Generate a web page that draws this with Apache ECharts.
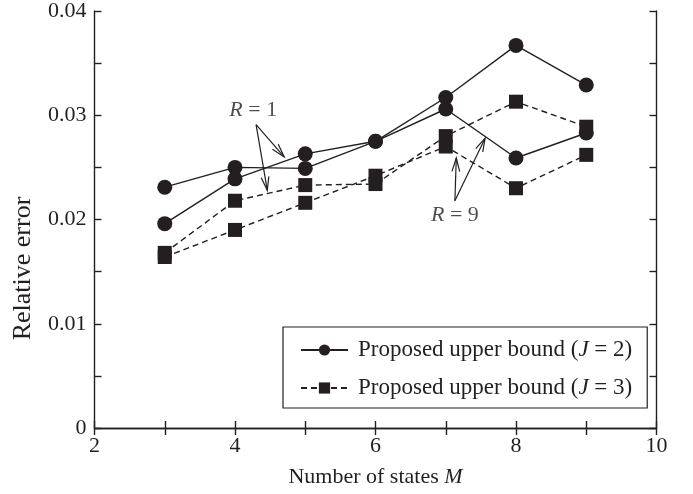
<!DOCTYPE html>
<html>
<head>
<meta charset="utf-8">
<script src="https://cdn.jsdelivr.net/npm/echarts@6/dist/echarts.min.js"></script>
<style>
  html, body { margin: 0; padding: 0; background: #fff; }
  #main { width: 693px; height: 494px; }
</style>
</head>
<body>
<div id="main"></div>
<script>
// number of states M
const mStates = [3, 4, 5, 6, 7, 8, 9];
// relative error, J = 2 (circles, solid)
const j2R1 = [0.0196, 0.0239, 0.0263, 0.0275, 0.0317, 0.0367, 0.0329];
const j2R9 = [0.0231, 0.0250, 0.0249, 0.0275, 0.0306, 0.0259, 0.0283];
// relative error, J = 3 (squares, dashed)
const j3R1 = [0.0168, 0.0218, 0.0233, 0.0234, 0.0280, 0.0313, 0.0289];
const j3R9 = [0.0164, 0.0190, 0.0216, 0.0242, 0.0270, 0.0230, 0.0262];
// annotation arrows, in data units: [fromX, fromY, toX, toY]
const arrowsR1 = [[4.30, 0.0291, 4.70, 0.0260], [4.30, 0.0291, 4.46, 0.0228]];
const arrowsR9 = [[7.13, 0.0218, 7.15, 0.0259], [7.13, 0.0218, 7.56, 0.0278]];
// annotation labels
const notes = [{ x: 4.26, y: 0.0305, r: '1' }, { x: 7.13, y: 0.0204, r: '9' }];

const ink = '#231f20';
const serif = '"Liberation Serif", "DejaVu Serif", serif';
const fs = 22;

function pairs(ys) {
    return mStates.map((m, i) => [m, ys[i]]);
}

let myChart = echarts.init(document.getElementById('main'));

function lineSeries(name, ys, symbol, dashed) {
    return {
        name: name,
        type: 'line',
        data: pairs(ys),
        symbol: symbol,
        symbolSize: symbol === 'circle' ? 15 : 14,
        itemStyle: { color: ink },
        lineStyle: { color: ink, width: 1.4, type: dashed ? [6, 4] : 'solid' },
        emphasis: { disabled: true },
        z: 3
    };
}

// open V arrow heads
function renderArrow(params, api) {
    let p0 = api.coord([api.value(0), api.value(1)]);
    let p1 = api.coord([api.value(2), api.value(3)]);
    let ang = Math.atan2(p1[1] - p0[1], p1[0] - p0[0]);
    let len = 14, spread = 0.28;
    let h1 = [p1[0] - len * Math.cos(ang - spread), p1[1] - len * Math.sin(ang - spread)];
    let h2 = [p1[0] - len * Math.cos(ang + spread), p1[1] - len * Math.sin(ang + spread)];
    return {
        type: 'group',
        children: [
            { type: 'line', shape: { x1: p0[0], y1: p0[1], x2: p1[0], y2: p1[1] },
              style: { stroke: ink, lineWidth: 1.2 } },
            { type: 'polyline', shape: { points: [h1, p1, h2] },
              style: { stroke: ink, lineWidth: 1.2, fill: null } }
        ]
    };
}

const richText = size => ({
    n: { fontFamily: serif, fontSize: size, color: ink },
    i: { fontFamily: serif, fontSize: size, color: ink, fontStyle: 'italic' }
});

let option = {
    animation: false,
    grid: { left: 94.5, right: 36.5, top: 6.5, bottom: 66 },
    legend: {
        data: ['J2', 'J3'],
        orient: 'vertical',
        left: 283,
        top: 327,
        itemWidth: 47,
        itemHeight: 14,
        itemGap: 14,
        padding: [11, 15, 8, 17],
        borderColor: ink,
        borderWidth: 1.2,
        borderRadius: 0,
        selectedMode: false,
        formatter: name => '{n|Proposed upper bound (}{i|J}{n| = ' + name.slice(1) + ')}',
        textStyle: {
            padding: [0, 0, 0, 5],
            lineHeight: 24,
            rich: richText(23)
        }
    },
    xAxis: [
        {
            type: 'value', min: 2, max: 10, interval: 1,
            name: '{n|Number of states }{i|M}',
            nameLocation: 'middle', nameGap: 38,
            nameTextStyle: { rich: richText(fs) },
            axisLine: { lineStyle: { color: ink, width: 1.4 } },
            axisTick: { inside: true, length: 7, lineStyle: { color: ink, width: 1.4 } },
            axisLabel: {
                margin: 7, color: ink, fontFamily: serif, fontSize: fs,
                formatter: v => (v % 2 === 0 ? String(v) : '')
            },
            splitLine: { show: false }
        },
        {
            type: 'value', min: 2, max: 10, interval: 1, position: 'top',
            axisLine: { lineStyle: { color: ink, width: 1.4 } },
            axisTick: { inside: true, length: 7, lineStyle: { color: ink, width: 1.4 } },
            axisLabel: { show: false },
            splitLine: { show: false }
        }
    ],
    yAxis: [
        {
            type: 'value', min: 0, max: 0.04, interval: 0.005,
            name: 'Relative error',
            nameLocation: 'middle', nameGap: 58,
            nameTextStyle: { fontFamily: serif, fontSize: 26, color: ink, padding: [0, 98, 0, 0] },
            axisLine: { lineStyle: { color: ink, width: 1.4 } },
            axisTick: { inside: true, length: 7, lineStyle: { color: ink, width: 1.4 } },
            axisLabel: {
                margin: 8, color: ink, fontFamily: serif, fontSize: fs,
                formatter: v => {
                    let k = Math.round(v * 1000);
                    if (k % 10 !== 0) return '';
                    return k === 0 ? '0' : (k / 1000).toFixed(2);
                }
            },
            splitLine: { show: false }
        },
        {
            type: 'value', min: 0, max: 0.04, interval: 0.005, position: 'right',
            axisLine: { lineStyle: { color: ink, width: 1.4 } },
            axisTick: { inside: true, length: 7, lineStyle: { color: ink, width: 1.4 } },
            axisLabel: { show: false },
            splitLine: { show: false }
        }
    ],
    series: [
        lineSeries('J2', j2R1, 'circle', false),
        lineSeries('J2', j2R9, 'circle', false),
        lineSeries('J3', j3R1, 'rect', true),
        lineSeries('J3', j3R9, 'rect', true),
        {
            name: 'arrows',
            type: 'custom',
            renderItem: renderArrow,
            data: arrowsR1.concat(arrowsR9),
            silent: true,
            z: 4
        },
        {
            name: 'notes',
            type: 'scatter',
            symbolSize: 0,
            silent: true,
            data: notes.map(n => ({ value: [n.x, n.y], r: n.r })),
            label: {
                show: true,
                position: 'inside',
                formatter: p => '{i|R}{n| = ' + p.data.r + '}',
                rich: richText(fs)
            },
            z: 5
        }
    ]
};

myChart.setOption(option);
</script>
</body>
</html>
